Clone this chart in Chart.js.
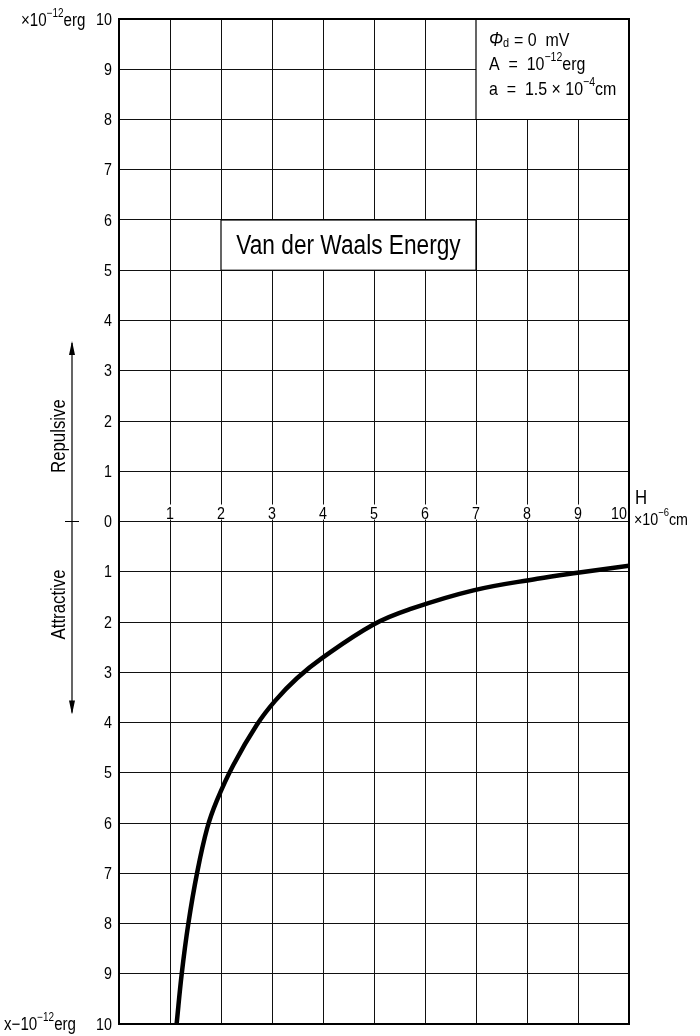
<!DOCTYPE html>
<html>
<head>
<meta charset="utf-8">
<script src="https://cdn.jsdelivr.net/npm/chart.js@4.4.1/dist/chart.umd.min.js"></script>
<style>
  html, body { margin: 0; padding: 0; background: #fff; }
  #wrap { width: 700px; height: 1036px; }
</style>
</head>
<body>
<div id="wrap"><canvas id="grafico" width="700" height="1036"></canvas></div>
<script>
'use strict';

/* ── datos ─────────────────────────────────────────────────────────────── */
const distH   = [1.13, 1.23, 1.36, 1.53, 1.73, 1.92, 2.24, 2.70, 3.06, 3.49, 3.98, 4.99, 5.72, 6.95, 8.20, 8.99, 10.0];
const energia = [-10, -9.0, -8.0, -7.0, -6.1, -5.55, -4.85, -4.05, -3.57, -3.12, -2.72, -2.05, -1.74, -1.37, -1.14, -1.02, -0.88];
const xTicks  = [1, 2, 3, 4, 5, 6, 7, 8, 9, 10];
const yTicks  = [10, 9, 8, 7, 6, 5, 4, 3, 2, 1, 0, -1, -2, -3, -4, -5, -6, -7, -8, -9, -10];

const FUENTE = "'Liberation Sans', 'DejaVu Sans', sans-serif";
const ESTRECHO = 0.84;   // compresión horizontal del texto (tipografía estrecha)

/* texto comprimido horizontalmente; devuelve el ancho real */
function txt(ctx, s, x, y, size, align, estilo) {
    ctx.save();
    ctx.font = `${estilo || ''} ${size}px ${FUENTE}`;
    const w = ctx.measureText(s).width * ESTRECHO;
    let x0 = x;
    if (align === 'center') x0 = x - w / 2;
    else if (align === 'right') x0 = x - w;
    ctx.translate(x0, y);
    ctx.scale(ESTRECHO, 1);
    ctx.textAlign = 'left';
    ctx.fillText(s, 0, 0);
    ctx.restore();
    return w;
}

/* texto con superíndices: partes [{t, sup}] */
function textoSup(ctx, partes, x, y, size) {
    let cx = x;
    partes.forEach(p => {
        const s = p.sup ? size * 0.66 : size;
        cx += txt(ctx, p.t, cx, p.sup ? y - size * 0.48 : y, s, 'left') + (p.gap || 0);
    });
}

/* ── plugin de decoración: cajas, etiquetas, flecha ───────────────────── */
const decoracion = {
    id: 'decoracion',
    beforeDatasetsDraw(chart) {
        const { ctx, chartArea: ca, scales: { x, y } } = chart;
        ctx.save();
        ctx.fillStyle = '#fff';
        ctx.strokeStyle = '#000';
        ctx.lineWidth = 1.2;

        // caja del título
        const tx0 = x.getPixelForValue(2), tx1 = x.getPixelForValue(7);
        const ty0 = y.getPixelForValue(6), ty1 = y.getPixelForValue(5);
        ctx.fillRect(tx0, ty0, tx1 - tx0, ty1 - ty0);
        ctx.strokeRect(tx0, ty0, tx1 - tx0, ty1 - ty0);

        // caja de parámetros
        const px0 = x.getPixelForValue(7), py1 = y.getPixelForValue(8);
        ctx.fillRect(px0, ca.top, ca.right - px0, py1 - ca.top);
        ctx.beginPath();
        ctx.moveTo(px0, ca.top); ctx.lineTo(px0, py1); ctx.lineTo(ca.right, py1);
        ctx.stroke();

        // etiquetas del eje H sobre el cero
        ctx.textBaseline = 'alphabetic';
        const y0 = y.getPixelForValue(0);
        xTicks.forEach(v => {
            const px = x.getPixelForValue(v);
            const ultimo = v === xTicks[xTicks.length - 1];
            ctx.fillStyle = '#fff';
            if (!ultimo) ctx.fillRect(px - 5, y0 - 17, 10, 15);
            ctx.fillStyle = '#000';
            if (ultimo) txt(ctx, String(v), px - 2, y0 - 3, 17, 'right');
            else txt(ctx, String(v), px, y0 - 3, 17, 'center');
        });
        ctx.restore();
    },
    afterDraw(chart) {
        const { ctx, chartArea: ca, scales: { x, y } } = chart;
        ctx.save();
        ctx.fillStyle = '#000';
        ctx.strokeStyle = '#000';

        // marco exterior
        ctx.lineWidth = 2;
        ctx.strokeRect(ca.left, ca.top, ca.right - ca.left, ca.bottom - ca.top);

        // etiquetas del eje de energía (valor absoluto)
        ctx.textBaseline = 'middle';
        yTicks.forEach(v => {
            txt(ctx, String(Math.abs(v)), ca.left - 7, y.getPixelForValue(v) + 1, 17, 'right');
        });

        // unidades de energía
        ctx.textBaseline = 'alphabetic';
        textoSup(ctx, [{ t: '×10' }, { t: '−12', sup: true }, { t: 'erg' }], 21, 26, 18);
        textoSup(ctx, [{ t: 'x−10' }, { t: '−12', sup: true }, { t: 'erg' }], 4, 1030, 18);

        // unidades de H
        const y0 = y.getPixelForValue(0);
        txt(ctx, 'H', ca.right + 6, y0 - 18, 20, 'left');
        textoSup(ctx, [{ t: '×10' }, { t: '−6', sup: true }, { t: 'cm' }], ca.right + 5, y0 + 3, 17);

        // título
        ctx.textBaseline = 'middle';
        txt(ctx, 'Van der Waals Energy',
            (x.getPixelForValue(2) + x.getPixelForValue(7)) / 2,
            (y.getPixelForValue(6) + y.getPixelForValue(5)) / 2 + 1, 27, 'center');

        // parámetros
        ctx.textBaseline = 'alphabetic';
        const pxT = x.getPixelForValue(7) + 13;
        txt(ctx, 'Φ', pxT, 46, 20, 'left', 'italic');
        txt(ctx, 'd', pxT + 14, 47, 13, 'left');
        txt(ctx, '= 0  mV', pxT + 25, 46, 19, 'left');
        textoSup(ctx, [{ t: 'A  =  10' }, { t: '−12', sup: true }, { t: 'erg' }], pxT, 70, 19);
        textoSup(ctx, [{ t: 'a  =  1.5 × 10' }, { t: '−4', sup: true }, { t: 'cm' }], pxT, 95, 19);

        // flecha Repulsive / Attractive
        const ax = 72;
        const aTop = y.getPixelForValue(3.55), aBot = y.getPixelForValue(-3.8);
        ctx.lineWidth = 1.2;
        ctx.beginPath();
        ctx.moveTo(ax, aTop); ctx.lineTo(ax, aBot);
        ctx.moveTo(ax - 7, y0); ctx.lineTo(ax + 7, y0);
        ctx.stroke();
        ctx.beginPath();
        ctx.moveTo(ax, aTop - 2); ctx.lineTo(ax - 3, aTop + 12); ctx.lineTo(ax + 3, aTop + 12); ctx.closePath();
        ctx.moveTo(ax, aBot + 2); ctx.lineTo(ax - 3, aBot - 12); ctx.lineTo(ax + 3, aBot - 12); ctx.closePath();
        ctx.fill();

        ctx.textBaseline = 'middle';
        ctx.save();
        ctx.translate(59, y.getPixelForValue(1.7));
        ctx.rotate(-Math.PI / 2);
        txt(ctx, 'Repulsive', 0, 0, 20, 'center');
        ctx.restore();
        ctx.save();
        ctx.translate(59, y.getPixelForValue(-1.65));
        ctx.rotate(-Math.PI / 2);
        txt(ctx, 'Attractive', 0, 0, 20, 'center');
        ctx.restore();

        ctx.restore();
    }
};

/* ── gráfico ───────────────────────────────────────────────────────────── */
new Chart(document.getElementById('grafico'), {
    type: 'scatter',
    data: {
        datasets: [{
            data: distH.map((h, i) => ({ x: h, y: energia[i] })),
            showLine: true,
            borderColor: '#000',
            borderWidth: 4.5,
            pointRadius: 0,
            tension: 0.4,
            fill: false
        }]
    },
    options: {
        responsive: false,
        animation: false,
        layout: { padding: { left: 119, right: 71, top: 19, bottom: 12 } },
        plugins: {
            legend: { display: false },
            tooltip: { enabled: false }
        },
        scales: {
            x: {
                type: 'linear',
                min: 0, max: 10,
                ticks: { display: false, stepSize: 1 },
                grid: { color: '#111', lineWidth: 1, drawTicks: false },
                border: { display: false }
            },
            y: {
                type: 'linear',
                min: -10, max: 10,
                ticks: { display: false, stepSize: 1 },
                grid: { color: '#111', lineWidth: 1, drawTicks: false },
                border: { display: false }
            }
        }
    },
    plugins: [decoracion]
});
</script>
</body>
</html>
